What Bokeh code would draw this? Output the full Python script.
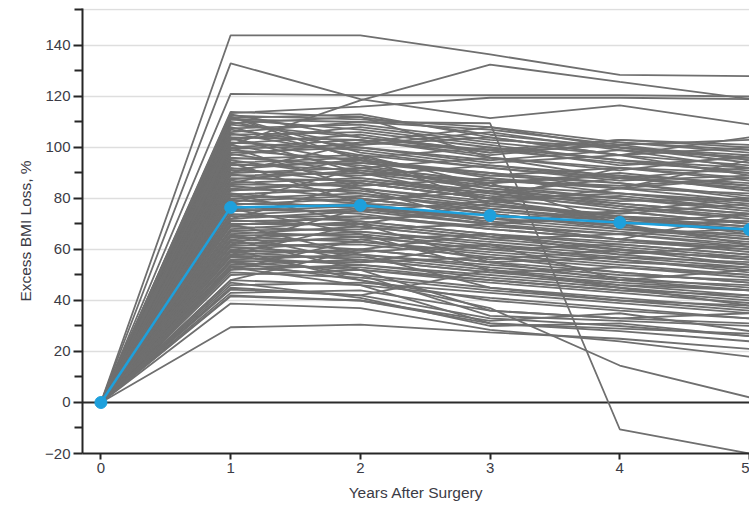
from bokeh.plotting import figure
from bokeh.models import FixedTicker, Span, Range1d
from bokeh.embed import file_html
from bokeh.resources import INLINE

years = [0, 1, 2, 3, 4, 5]
year_ticks = [0, 1, 2, 3, 4, 5]
y_major = [-20, 0, 20, 40, 60, 80, 100, 120, 140]
y_minor = [-10, 10, 30, 50, 70, 90, 110, 130, 154]
grid_levels = [20, 40, 60, 80, 100, 120, 140, 154]

mean_ebwl = [0, 76.5, 77.3, 73.3, 70.6, 67.8]

upper_outliers = [
    [144, 144, 136.5, 128.5, 128],
    [133, 119, 111.5, 116.5, 109],
    [101, 118.5, 132.5, 125.7, 119],
    [121, 120.5, 120.5, 120.5, 120],
    [113.5, 116, 119.5, 119.5, 119],
    [111, 110, 109.5, -10.5, -20],
]

cohort_high = [
    [114, 112, 105, 100, 96], [113, 104, 98, 103, 100], [112.5, 111, 108, 102, 99],
    [112, 98, 92, 88, 84], [111.5, 113, 104, 97, 104], [111, 107, 101, 95, 90],
    [110, 101, 106, 99, 92], [109.5, 112, 96, 91, 97], [109, 104, 99, 103, 101],
    [108, 96, 88, 82, 79], [107.5, 109, 103, 100, 94], [107, 100, 94, 97, 89],
    [106, 110, 107, 101, 103], [105.5, 97, 85, 80, 75], [105, 106, 100, 93, 96],
    [104, 103, 97, 102, 98], [103.5, 94, 90, 86, 81], [103, 108, 102, 97, 100],
    [102, 99, 93, 89, 86], [101.5, 105, 98, 101, 95], [101, 92, 87, 84, 88],
    [100, 103, 96, 92, 90], [99.5, 101, 104, 97, 93], [99, 95, 89, 86, 80],
    [98, 100, 95, 99, 96], [97.5, 90, 84, 78, 74], [97, 102, 99, 94, 91],
    [96, 93, 86, 90, 85], [95.5, 97, 92, 87, 89], [95, 88, 82, 76, 72],
    [94, 96, 100, 95, 92], [93.5, 91, 85, 82, 78], [93, 94, 89, 92, 87],
    [92, 86, 80, 75, 70], [91.5, 95, 90, 84, 82], [91, 89, 93, 88, 84],
    [90, 92, 84, 80, 76],
]

cohort_mid = [
    [89.5, 84, 78, 73, 69], [89, 90, 87, 85, 88], [88, 87, 81, 77, 73],
    [87.5, 91, 86, 89, 83], [87, 82, 76, 71, 67], [86, 88, 83, 79, 80],
    [85.5, 85, 88, 84, 79], [85, 80, 74, 69, 64], [84, 86, 80, 82, 77],
    [83.5, 83, 77, 73, 71], [83, 87, 82, 78, 74], [82, 78, 72, 68, 66],
    [81.5, 84, 79, 81, 76], [81, 79, 83, 77, 72], [80, 82, 75, 71, 68],
    [79.5, 76, 70, 66, 62], [79, 81, 77, 74, 78], [78, 77, 72, 75, 70],
    [77.5, 80, 74, 69, 65], [77, 74, 68, 64, 60], [76, 78, 76, 72, 69],
    [75.5, 75, 79, 73, 67], [75, 77, 71, 67, 63], [74, 71, 66, 62, 58],
    [73.5, 76, 72, 70, 71], [73, 73, 68, 64, 61], [72, 75, 70, 73, 66],
    [71.5, 69, 64, 60, 56], [71, 72, 74, 68, 64], [70, 70, 65, 61, 57],
]

cohort_low = [
    [69.5, 73, 69, 66, 68], [69, 67, 62, 58, 54], [68, 71, 66, 63, 60],
    [67.5, 68, 70, 64, 59], [67, 65, 60, 56, 52], [66, 69, 64, 66, 61],
    [65.5, 66, 61, 57, 55], [65, 63, 58, 54, 50], [64, 67, 63, 59, 57],
    [63.5, 64, 66, 60, 56], [63, 60, 55, 51, 47], [62, 65, 60, 62, 58],
    [61.5, 62, 57, 53, 50], [61, 58, 53, 49, 45], [60, 63, 59, 55, 53],
    [59.5, 59, 62, 56, 51], [59, 56, 51, 47, 44], [58, 60, 55, 57, 53],
    [57.5, 57, 52, 48, 46], [57, 54, 49, 45, 41], [56, 58, 54, 50, 48],
    [55.5, 55, 57, 51, 47], [55, 52, 47, 43, 39], [54, 56, 51, 53, 49],
    [53.5, 53, 48, 44, 42], [53, 50, 45, 41, 37], [52, 54, 50, 46, 44],
    [51, 49, 44, 40, 36], [50, 52, 48, 44, 40], [48, 46, 41, 37, 33],
    [46, 47, 43, 39, 35],
]

crossing_paths = [
    [112, 95, 82, 88, 92], [100, 84, 70, 75, 80], [94, 78, 86, 70, 74],
    [86, 96, 78, 84, 95], [78, 92, 96, 88, 85], [72, 86, 80, 92, 88],
    [66, 55, 62, 48, 52], [62, 76, 70, 64, 74], [58, 70, 78, 72, 68],
    [52, 64, 56, 60, 54], [48, 60, 66, 58, 62], [45, 42, 52, 45, 38],
    [43, 44, 36, 33, 31], [42, 40, 32, 35, 28], [60, 48, 40, 36, 33],
    [70, 58, 45, 40, 38], [82, 70, 55, 48, 44], [90, 102, 108, 100, 97],
    [104, 90, 80, 70, 62], [76, 66, 52, 46, 42], [58, 50, 34, 32, 30],
    [53, 46, 31, 29, 27], [64, 52, 36, 33, 35], [47, 41, 30, 31, 26],
]

lower_outliers = [
    [29.5, 30.5, 27.5, 25, 21],
    [38.8, 37, 28.5, 24, 18],
    [41.6, 40, 31, 28, 24],
    [44.3, 42, 33, 30, 26],
    [55, 48, 37, 14.5, 2],
]

groups = [cohort_high, cohort_mid, cohort_low, crossing_paths, lower_outliers, upper_outliers]
xs, ys = [], []
for g in groups:
    for row in g:
        xs.append(years)
        ys.append([0] + row)

FONT = "Liberation Sans"
TXT = "#3b3b45"

p = figure(width=749, height=509, x_range=Range1d(-0.142, 5.0), y_range=Range1d(-20, 154.5),
           output_backend="svg", toolbar_location=None,
           min_border_left=82, min_border_right=0, min_border_top=8, min_border_bottom=56)
p.outline_line_color = None
p.background_fill_color = "white"
p.border_fill_color = "white"

p.xgrid.visible = False
p.ygrid.ticker = FixedTicker(ticks=grid_levels)
p.ygrid.grid_line_color = "#dedede"
p.ygrid.grid_line_width = 1.5

zero = Span(location=0, dimension="width", line_color="#2b2b2b", line_width=1.8, level="underlay")
p.add_layout(zero)

p.multi_line(xs=xs, ys=ys, line_color="#6f6f6f", line_width=1.8)
p.line(years, mean_ebwl, line_color="#1ea0dc", line_width=2.5)
p.scatter(years, mean_ebwl, size=12, fill_color="#1ea0dc", line_color="#1ea0dc")

ya = p.yaxis[0]
ya.ticker = FixedTicker(ticks=y_major, minor_ticks=y_minor)
ya.axis_label = "Excess BMI Loss, %"
ya.major_tick_out = 9
ya.major_tick_in = 0
ya.minor_tick_out = 8
ya.minor_tick_in = 0
ya.major_label_standoff = 3
ya.axis_label_standoff = 8

xa = p.xaxis[0]
xa.ticker = FixedTicker(ticks=year_ticks)
xa.axis_label = "Years After Surgery"
xa.major_tick_out = 6
xa.major_tick_in = 0
xa.minor_tick_line_color = None
xa.major_label_standoff = 3
xa.axis_label_standoff = 8

for ax in (xa, ya):
    ax.axis_line_color = "#262626"
    ax.axis_line_width = 2
    ax.major_tick_line_color = "#262626"
    ax.major_tick_line_width = 2
    ax.minor_tick_line_width = 2
    ax.major_label_text_font = FONT
    ax.major_label_text_font_size = "15px"
    ax.major_label_text_color = TXT
    ax.axis_label_text_font = FONT
    ax.axis_label_text_font_size = "15.5px"
    ax.axis_label_text_font_style = "normal"
    ax.axis_label_text_color = TXT
ya.minor_tick_line_color = "#262626"

open("out.html", "w").write(file_html(p, INLINE))
